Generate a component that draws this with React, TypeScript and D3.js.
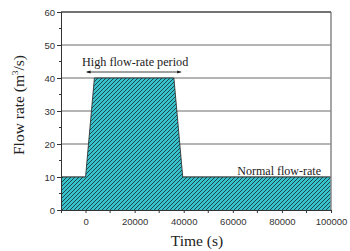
import { useEffect, useRef } from "react"
import * as d3 from "d3"

const timeS = [-10000, 0, 3600, 36000, 39600, 100000]
const flowRate = [10, 10, 40, 40, 10, 10]
const xTicks = [0, 20000, 40000, 60000, 80000, 100000]
const yTicks = [0, 10, 20, 30, 40, 50, 60]

export default function App() {
  const svgRef = useRef<SVGSVGElement>(null)

  useEffect(() => {
    if (!svgRef.current) return
    const svg = d3.select(svgRef.current)
    svg.selectAll("*").remove()

    const left = 61, right = 331, top = 12, bottom = 210
    const x = d3.scaleLinear().domain([-10000, 100000]).range([left, right])
    const y = d3.scaleLinear().domain([0, 60]).range([bottom, top])

    const sans = "'Liberation Sans', Arial, sans-serif"
    const serif = "'Liberation Serif', 'Times New Roman', serif"

    const defs = svg.append("defs")
    const pat = defs.append("pattern")
      .attr("id", "hatch")
      .attr("patternUnits", "userSpaceOnUse")
      .attr("width", 4)
      .attr("height", 4)
    pat.append("rect").attr("width", 4).attr("height", 4).attr("fill", "#38c2cc")
    pat.append("path")
      .attr("d", "M-1,1 l2,-2 M0,4 l4,-4 M3,5 l2,-2")
      .attr("stroke", "#1a3940")
      .attr("stroke-width", 0.9)

    // gridlines
    svg.append("g")
      .selectAll("line")
      .data(yTicks.filter((d) => d > 0))
      .join("line")
      .attr("x1", left).attr("x2", right)
      .attr("y1", (d) => y(d)).attr("y2", (d) => y(d))
      .attr("stroke", "#6a6a6a")
      .attr("stroke-width", 1)

    // area
    const pts = timeS.map((t, i) => ({ t, v: flowRate[i] }))
    const area = d3.area<{ t: number; v: number }>()
      .x((d) => x(d.t))
      .y0(y(0))
      .y1((d) => y(d.v))
    svg.append("path")
      .datum(pts)
      .attr("d", area)
      .attr("fill", "url(#hatch)")
    const line = d3.line<{ t: number; v: number }>().x((d) => x(d.t)).y((d) => y(d.v))
    svg.append("path")
      .datum(pts)
      .attr("d", line)
      .attr("fill", "none")
      .attr("stroke", "#222")
      .attr("stroke-width", 0.8)

    // frame
    svg.append("line").attr("x1", right).attr("x2", right).attr("y1", top).attr("y2", bottom)
      .attr("stroke", "#888").attr("stroke-width", 1.5)

    // y axis
    const yAxis = svg.append("g")
      .attr("transform", `translate(${left},0)`)
      .call(d3.axisLeft(y).tickValues(yTicks).tickSize(4).tickPadding(2).tickFormat(d3.format("d")))
    yAxis.append("g").selectAll("line")
      .data(d3.range(5, 60, 10))
      .join("line")
      .attr("x1", -2).attr("x2", 0)
      .attr("y1", (d) => y(d)).attr("y2", (d) => y(d))
      .attr("stroke", "#333")
    yAxis.select(".domain").attr("stroke", "#333")
    yAxis.selectAll(".tick line").attr("stroke", "#333")
    yAxis.selectAll("text")
      .attr("font-family", sans)
      .attr("font-size", 9.5)
      .attr("fill", "#333")

    // x axis
    const xAxis = svg.append("g")
      .attr("transform", `translate(0,${bottom})`)
      .call(d3.axisBottom(x).tickValues(xTicks).tickSize(3).tickPadding(5).tickFormat(d3.format("d")))
    xAxis.append("g").selectAll("line")
      .data(d3.range(10000, 100000, 20000))
      .join("line")
      .attr("x1", (d) => x(d)).attr("x2", (d) => x(d))
      .attr("y1", 0).attr("y2", 3)
      .attr("stroke", "#333")
    xAxis.select(".domain").attr("stroke", "#333")
    xAxis.selectAll(".tick line").attr("stroke", "#333")
    xAxis.selectAll("text")
      .attr("font-family", sans)
      .attr("font-size", 9.5)
      .attr("fill", "#333")

    // top border
    svg.append("line").attr("x1", left).attr("x2", right).attr("y1", top).attr("y2", top)
      .attr("stroke", "#333").attr("stroke-width", 1)

    // annotation arrow
    defs.append("marker")
      .attr("id", "arr")
      .attr("viewBox", "0 0 10 10")
      .attr("refX", 10).attr("refY", 5)
      .attr("markerWidth", 5).attr("markerHeight", 5)
      .attr("orient", "auto-start-reverse")
      .append("path").attr("d", "M0,1 L10,5 L0,9 z").attr("fill", "#111")
    svg.append("line")
      .attr("x1", x(0) + 1).attr("x2", x(39000))
      .attr("y1", 72).attr("y2", 72)
      .attr("stroke", "#111").attr("stroke-width", 0.8)
      .attr("marker-start", "url(#arr)")
      .attr("marker-end", "url(#arr)")
    svg.append("text")
      .attr("x", x(20000) + 0.5).attr("y", 66)
      .attr("text-anchor", "middle")
      .attr("font-family", serif).attr("font-size", 12.2)
      .attr("fill", "#222")
      .text("High flow-rate period")
    svg.append("text")
      .attr("x", 321).attr("y", 175)
      .attr("text-anchor", "end")
      .attr("font-family", serif).attr("font-size", 12)
      .attr("fill", "#222")
      .text("Normal flow-rate")

    // axis titles
    svg.append("text")
      .attr("x", 197).attr("y", 246)
      .attr("text-anchor", "middle")
      .attr("font-family", serif).attr("font-size", 15.5)
      .attr("font-weight", "normal")
      .attr("fill", "#222")
      .text("Time (s)")
    const yt = svg.append("text")
      .attr("transform", `translate(24,105) rotate(-90)`)
      .attr("text-anchor", "middle")
      .attr("font-family", serif).attr("font-size", 15.5)
      .attr("font-weight", "normal")
      .attr("fill", "#222")
    yt.append("tspan").text("Flow rate (m")
    yt.append("tspan").attr("dy", -6).attr("font-size", 9).text("3")
    yt.append("tspan").attr("dy", 6).text("/s)")
  }, [])

  return (
    <svg
      ref={svgRef}
      width={350}
      height={251}
      style={{ position: "absolute", left: 0, top: 0, background: "#fff" }}
    />
  )
}
